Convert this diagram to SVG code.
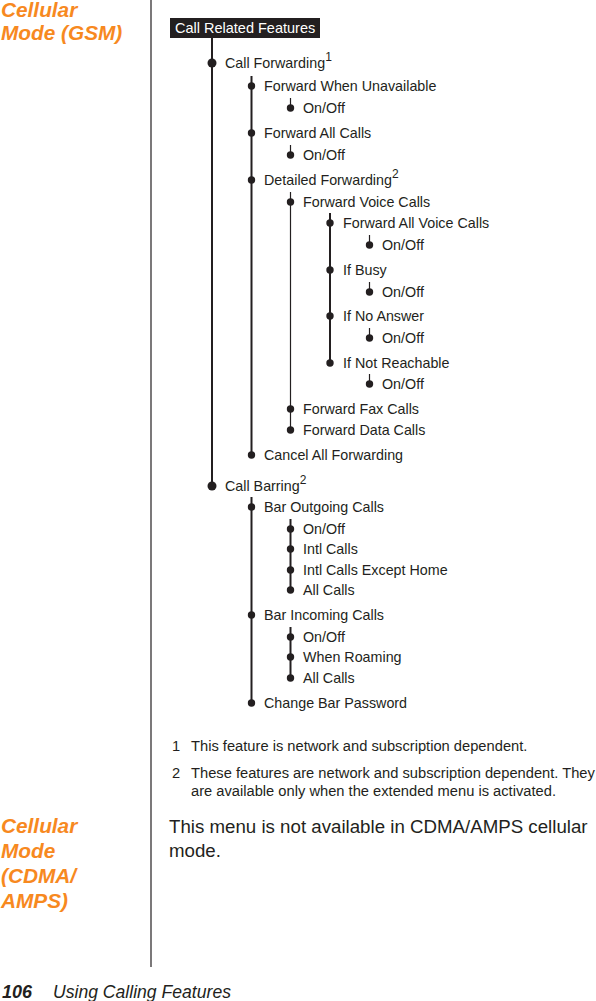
<svg xmlns="http://www.w3.org/2000/svg" width="596" height="1001" viewBox="0 0 596 1001">
<style>
.h{font-family:"Liberation Sans",Arial,sans-serif;font-weight:bold;font-style:italic;font-size:20.8px;fill:#F7891F}
.t{font-family:"Liberation Sans",Arial,sans-serif;font-size:14.3px;fill:#231f20}
.sup{font-family:"Liberation Sans",Arial,sans-serif;font-size:12px;fill:#231f20}
.fn{font-family:"Liberation Sans",Arial,sans-serif;font-size:14.7px;fill:#231f20}
.body{font-family:"Liberation Sans",Arial,sans-serif;font-size:18.7px;fill:#231f20}
.ln{stroke:#231f20;stroke-width:2;fill:none}
.thin{stroke:#231f20;stroke-width:1.2;fill:none}
.d0{fill:#231f20}
</style>
<rect width="596" height="1001" fill="#fff"/>
<g id="headings">
<text class="h" x="1" y="17">Cellular</text>
<text class="h" x="1" y="40">Mode (GSM)</text>
<text class="h" x="1" y="833">Cellular</text>
<text class="h" x="1" y="858">Mode</text>
<text class="h" x="1" y="883">(CDMA/</text>
<text class="h" x="1" y="908">AMPS)</text>
</g>
<line x1="151" y1="0" x2="151" y2="967" stroke="#231f20" stroke-width="1.2"/>
<g id="connectors">
<line class="ln" x1="212" y1="38" x2="212" y2="486"/>
<line class="ln" x1="251.5" y1="76" x2="251.5" y2="455"/>
<line class="thin" x1="290.5" y1="98" x2="290.5" y2="108"/>
<line class="thin" x1="290.5" y1="145" x2="290.5" y2="155"/>
<line class="thin" x1="290.5" y1="192" x2="290.5" y2="430"/>
<line class="ln" x1="330" y1="213" x2="330" y2="363"/>
<line class="thin" x1="369.5" y1="235" x2="369.5" y2="245"/>
<line class="thin" x1="369.5" y1="282" x2="369.5" y2="292"/>
<line class="thin" x1="369.5" y1="328" x2="369.5" y2="338"/>
<line class="thin" x1="369.5" y1="374" x2="369.5" y2="384"/>
<line class="ln" x1="251.5" y1="497" x2="251.5" y2="703"/>
<line class="ln" x1="290.5" y1="519" x2="290.5" y2="590"/>
<line class="ln" x1="290.5" y1="627" x2="290.5" y2="678"/>
</g>
<g id="header">
<rect x="170" y="18" width="150" height="20" fill="#231f20"/>
<text x="175" y="33" font-family="Liberation Sans,Arial,sans-serif" font-size="14.5" fill="#fff">Call Related Features</text>
</g>
<g id="n-callfwd"><circle class="d0" cx="212" cy="63" r="4.5"/><text class="t" x="225" y="68">Call Forwarding<tspan class="sup" dy="-7">1</tspan></text></g>
<g id="n-fwu"><circle class="d0" cx="251.5" cy="86" r="3.7"/><text class="t" x="264" y="91">Forward When Unavailable</text></g>
<g id="n-fwu-on"><circle class="d0" cx="290.5" cy="108" r="3.7"/><text class="t" x="303" y="113">On/Off</text></g>
<g id="n-fac"><circle class="d0" cx="251.5" cy="133" r="3.7"/><text class="t" x="264" y="138">Forward All Calls</text></g>
<g id="n-fac-on"><circle class="d0" cx="290.5" cy="155" r="3.7"/><text class="t" x="303" y="160">On/Off</text></g>
<g id="n-df"><circle class="d0" cx="251.5" cy="180" r="3.7"/><text class="t" x="264" y="185">Detailed Forwarding<tspan class="sup" dy="-7">2</tspan></text></g>
<g id="n-fvc"><circle class="d0" cx="290.5" cy="202" r="3.7"/><text class="t" x="303" y="207">Forward Voice Calls</text></g>
<g id="n-favc"><circle class="d0" cx="330" cy="223" r="3.7"/><text class="t" x="343" y="228">Forward All Voice Calls</text></g>
<g id="n-favc-on"><circle class="d0" cx="369.5" cy="245" r="3.7"/><text class="t" x="382" y="250">On/Off</text></g>
<g id="n-busy"><circle class="d0" cx="330" cy="270" r="3.7"/><text class="t" x="343" y="275">If Busy</text></g>
<g id="n-busy-on"><circle class="d0" cx="369.5" cy="292" r="3.7"/><text class="t" x="382" y="297">On/Off</text></g>
<g id="n-noans"><circle class="d0" cx="330" cy="316" r="3.7"/><text class="t" x="343" y="321">If No Answer</text></g>
<g id="n-noans-on"><circle class="d0" cx="369.5" cy="338" r="3.7"/><text class="t" x="382" y="343">On/Off</text></g>
<g id="n-notreach"><circle class="d0" cx="330" cy="363" r="3.7"/><text class="t" x="343" y="368">If Not Reachable</text></g>
<g id="n-notreach-on"><circle class="d0" cx="369.5" cy="384" r="3.7"/><text class="t" x="382" y="389">On/Off</text></g>
<g id="n-ffc"><circle class="d0" cx="290.5" cy="409" r="3.7"/><text class="t" x="303" y="414">Forward Fax Calls</text></g>
<g id="n-fdc"><circle class="d0" cx="290.5" cy="430" r="3.7"/><text class="t" x="303" y="435">Forward Data Calls</text></g>
<g id="n-caf"><circle class="d0" cx="251.5" cy="455" r="3.7"/><text class="t" x="264" y="460">Cancel All Forwarding</text></g>
<g id="n-cb"><circle class="d0" cx="212" cy="486" r="4.5"/><text class="t" x="225" y="491">Call Barring<tspan class="sup" dy="-7">2</tspan></text></g>
<g id="n-boc"><circle class="d0" cx="251.5" cy="507" r="3.7"/><text class="t" x="264" y="512">Bar Outgoing Calls</text></g>
<g id="n-boc-on"><circle class="d0" cx="290.5" cy="529" r="3.7"/><text class="t" x="303" y="534">On/Off</text></g>
<g id="n-intl"><circle class="d0" cx="290.5" cy="549" r="3.7"/><text class="t" x="303" y="554">Intl Calls</text></g>
<g id="n-intlh"><circle class="d0" cx="290.5" cy="570" r="3.7"/><text class="t" x="303" y="575">Intl Calls Except Home</text></g>
<g id="n-boc-all"><circle class="d0" cx="290.5" cy="590" r="3.7"/><text class="t" x="303" y="595">All Calls</text></g>
<g id="n-bic"><circle class="d0" cx="251.5" cy="615" r="3.7"/><text class="t" x="264" y="620">Bar Incoming Calls</text></g>
<g id="n-bic-on"><circle class="d0" cx="290.5" cy="637" r="3.7"/><text class="t" x="303" y="642">On/Off</text></g>
<g id="n-roam"><circle class="d0" cx="290.5" cy="657" r="3.7"/><text class="t" x="303" y="662">When Roaming</text></g>
<g id="n-bic-all"><circle class="d0" cx="290.5" cy="678" r="3.7"/><text class="t" x="303" y="683">All Calls</text></g>
<g id="n-cbp"><circle class="d0" cx="251.5" cy="703" r="3.7"/><text class="t" x="264" y="708">Change Bar Password</text></g>
<g id="footnotes">
<text class="fn" x="172" y="751">1</text>
<text class="fn" x="191" y="751">This feature is network and subscription dependent.</text>
<text class="fn" x="172" y="778">2</text>
<text class="fn" x="191" y="778">These features are network and subscription dependent. They</text>
<text class="fn" x="191" y="796">are available only when the extended menu is activated.</text>
</g>
<g id="cdma-body">
<text class="body" x="169" y="833">This menu is not available in CDMA/AMPS cellular</text>
<text class="body" x="169" y="857">mode.</text>
</g>
<g id="footer">
<text x="2" y="998" font-family="Liberation Sans,Arial,sans-serif" font-weight="bold" font-style="italic" font-size="18" fill="#231f20">106</text>
<text x="53" y="998" font-family="Liberation Sans,Arial,sans-serif" font-style="italic" font-size="17.6" fill="#231f20">Using Calling Features</text>
</g>
</svg>
